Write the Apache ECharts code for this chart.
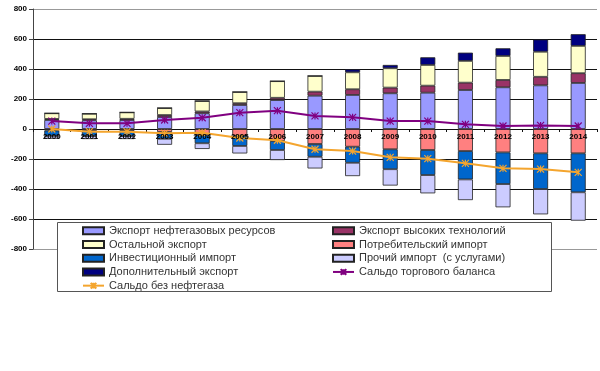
<!DOCTYPE html>
<html><head><meta charset="utf-8">
<script src="https://cdn.jsdelivr.net/npm/echarts@6/dist/echarts.min.js"></script>
<style>html,body{margin:0;padding:0;background:#fff}#c{width:600px;height:371px}</style>
</head><body><div id="c"></div>
<script>
var years = ['2000','2001','2002','2003','2004','2005','2006','2007','2008','2009','2010','2011','2012','2013','2014'];
var yTicks = [-800, 800, 200];
var oilGasExport = [60, 58, 60, 80, 105, 160, 193, 222, 227, 238, 242, 260, 278, 291, 307];
var hiTechExport = [7, 7, 8, 13, 12, 12, 15, 27, 38, 38, 47, 49, 49, 57, 65];
var otherExport = [38, 37, 43, 47, 70, 75, 111, 105, 113, 129, 138, 145, 160, 167, 182];
var extraExport = [0, 0, 0, 0, 0, 0, 0, 0, 20, 22, 51, 55, 51, 82, 78];
var consumerImport = [-10, -12, -12, -20, -40, -45, -80, -100, -118, -135, -140, -147, -156, -162, -162];
var investImport = [-35, -35, -35, -45, -55, -68, -60, -85, -107, -133, -167, -189, -211, -238, -260];
var otherImport = [-20, -20, -20, -40, -38, -50, -67, -78, -89, -109, -122, -138, -155, -169, -189];
var tradeBalance = [53, 38, 38, 60, 75, 109, 122, 87, 78, 53, 53, 31, 20, 24, 20];
var nonOilBalance = [0, -18, -18, -29, -25, -60, -75, -135, -147, -189, -198, -229, -262, -267, -289];

var names = {
  oil: 'Экспорт нефтегазовых ресурсов',
  hi: 'Экспорт высоких технологий',
  other: 'Остальной экспорт',
  cons: 'Потребительский импорт',
  inv: 'Инвестиционный импорт',
  oimp: 'Прочий импорт  (с услугами)',
  extra: 'Дополнительный экспорт',
  bal: 'Сальдо торгового баланса',
  nonoil: 'Сальдо без нефтегаза'
};
var star = 'path://M0,0L10,10M10,0L0,10M5,0L5,10';
function bar(name, data, color) {
  return {name: name, type: 'bar', stack: 's', data: data, barWidth: 15,
    itemStyle: {color: color, borderColor: '#222', borderWidth: 0.8}};
}
function line(name, data, color) {
  return {name: name, type: 'line', data: data, z: 5,
    lineStyle: {color: color, width: 2},
    symbol: star, symbolSize: 7,
    itemStyle: {color: color, borderColor: color, borderWidth: 1.2}};
}
var chart = echarts.init(document.getElementById('c'), null, {renderer: 'canvas'});
var legText = {fontFamily: 'Liberation Sans, Arial', fontSize: 11, color: '#333', lineHeight: 13.7};
var xLabelFont = {fontFamily: 'Liberation Sans, Arial', fontSize: 8, fontWeight: 'bold', color: '#000'};
chart.setOption({
  animation: false,
  backgroundColor: '#fff',
  grid: {left: 33, right: 3, top: 9, bottom: 122, containLabel: false},
  xAxis: [
    {type: 'category', data: years,
      axisLine: {onZero: true, lineStyle: {color: '#111', width: 1}},
      axisTick: {show: true, length: 3, lineStyle: {color: '#111'}},
      axisLabel: {show: false}},
    {type: 'category', data: years, position: 'bottom', offset: -120, z: 10,
      axisLine: {show: false}, axisTick: {show: false}, splitLine: {show: false},
      axisLabel: Object.assign({margin: 4}, xLabelFont)}
  ],
  yAxis: {type: 'value', min: yTicks[0], max: yTicks[1], interval: yTicks[2],
    axisLine: {show: true, lineStyle: {color: '#444'}},
    axisTick: {show: true, length: 4, lineStyle: {color: '#444'}},
    axisLabel: {fontFamily: 'Liberation Sans, Arial', fontSize: 8, fontWeight: 'bold', color: '#000', margin: 6},
    splitLine: {lineStyle: {color: ['#999','#111','#111','#111','#111','#111','#111','#111','#999'], width: 1}}},
  graphic: [{type: 'rect', z: 50, shape: {x: 57.5, y: 222.5, width: 494, height: 69},
    style: {fill: '#fff', stroke: '#555', lineWidth: 1}}],
  legend: [
    {orient: 'vertical', left: 82, top: 224, padding: 0, itemGap: 0, itemWidth: 21, itemHeight: 7, z: 60,
      textStyle: legText,
      data: [{name: names.oil, icon: 'rect'}, {name: names.other, icon: 'rect'}, {name: names.inv, icon: 'rect'},
             {name: names.extra, icon: 'rect'}, {name: names.nonoil}]},
    {orient: 'vertical', left: 332, top: 224, padding: 0, itemGap: 0, itemWidth: 21, itemHeight: 7, z: 60,
      textStyle: legText,
      data: [{name: names.hi, icon: 'rect'}, {name: names.cons, icon: 'rect'}, {name: names.oimp, icon: 'rect'},
             {name: names.bal}]}
  ],
  series: [
    bar(names.oil, oilGasExport, '#9999FF'),
    bar(names.hi, hiTechExport, '#993366'),
    bar(names.other, otherExport, '#FFFFCC'),
    bar(names.extra, extraExport, '#000080'),
    bar(names.cons, consumerImport, '#FF8080'),
    bar(names.inv, investImport, '#0066CC'),
    bar(names.oimp, otherImport, '#CCCCFF'),
    line(names.bal, tradeBalance, '#800080'),
    line(names.nonoil, nonOilBalance, '#F4A52E')
  ]
});
</script></body></html>
